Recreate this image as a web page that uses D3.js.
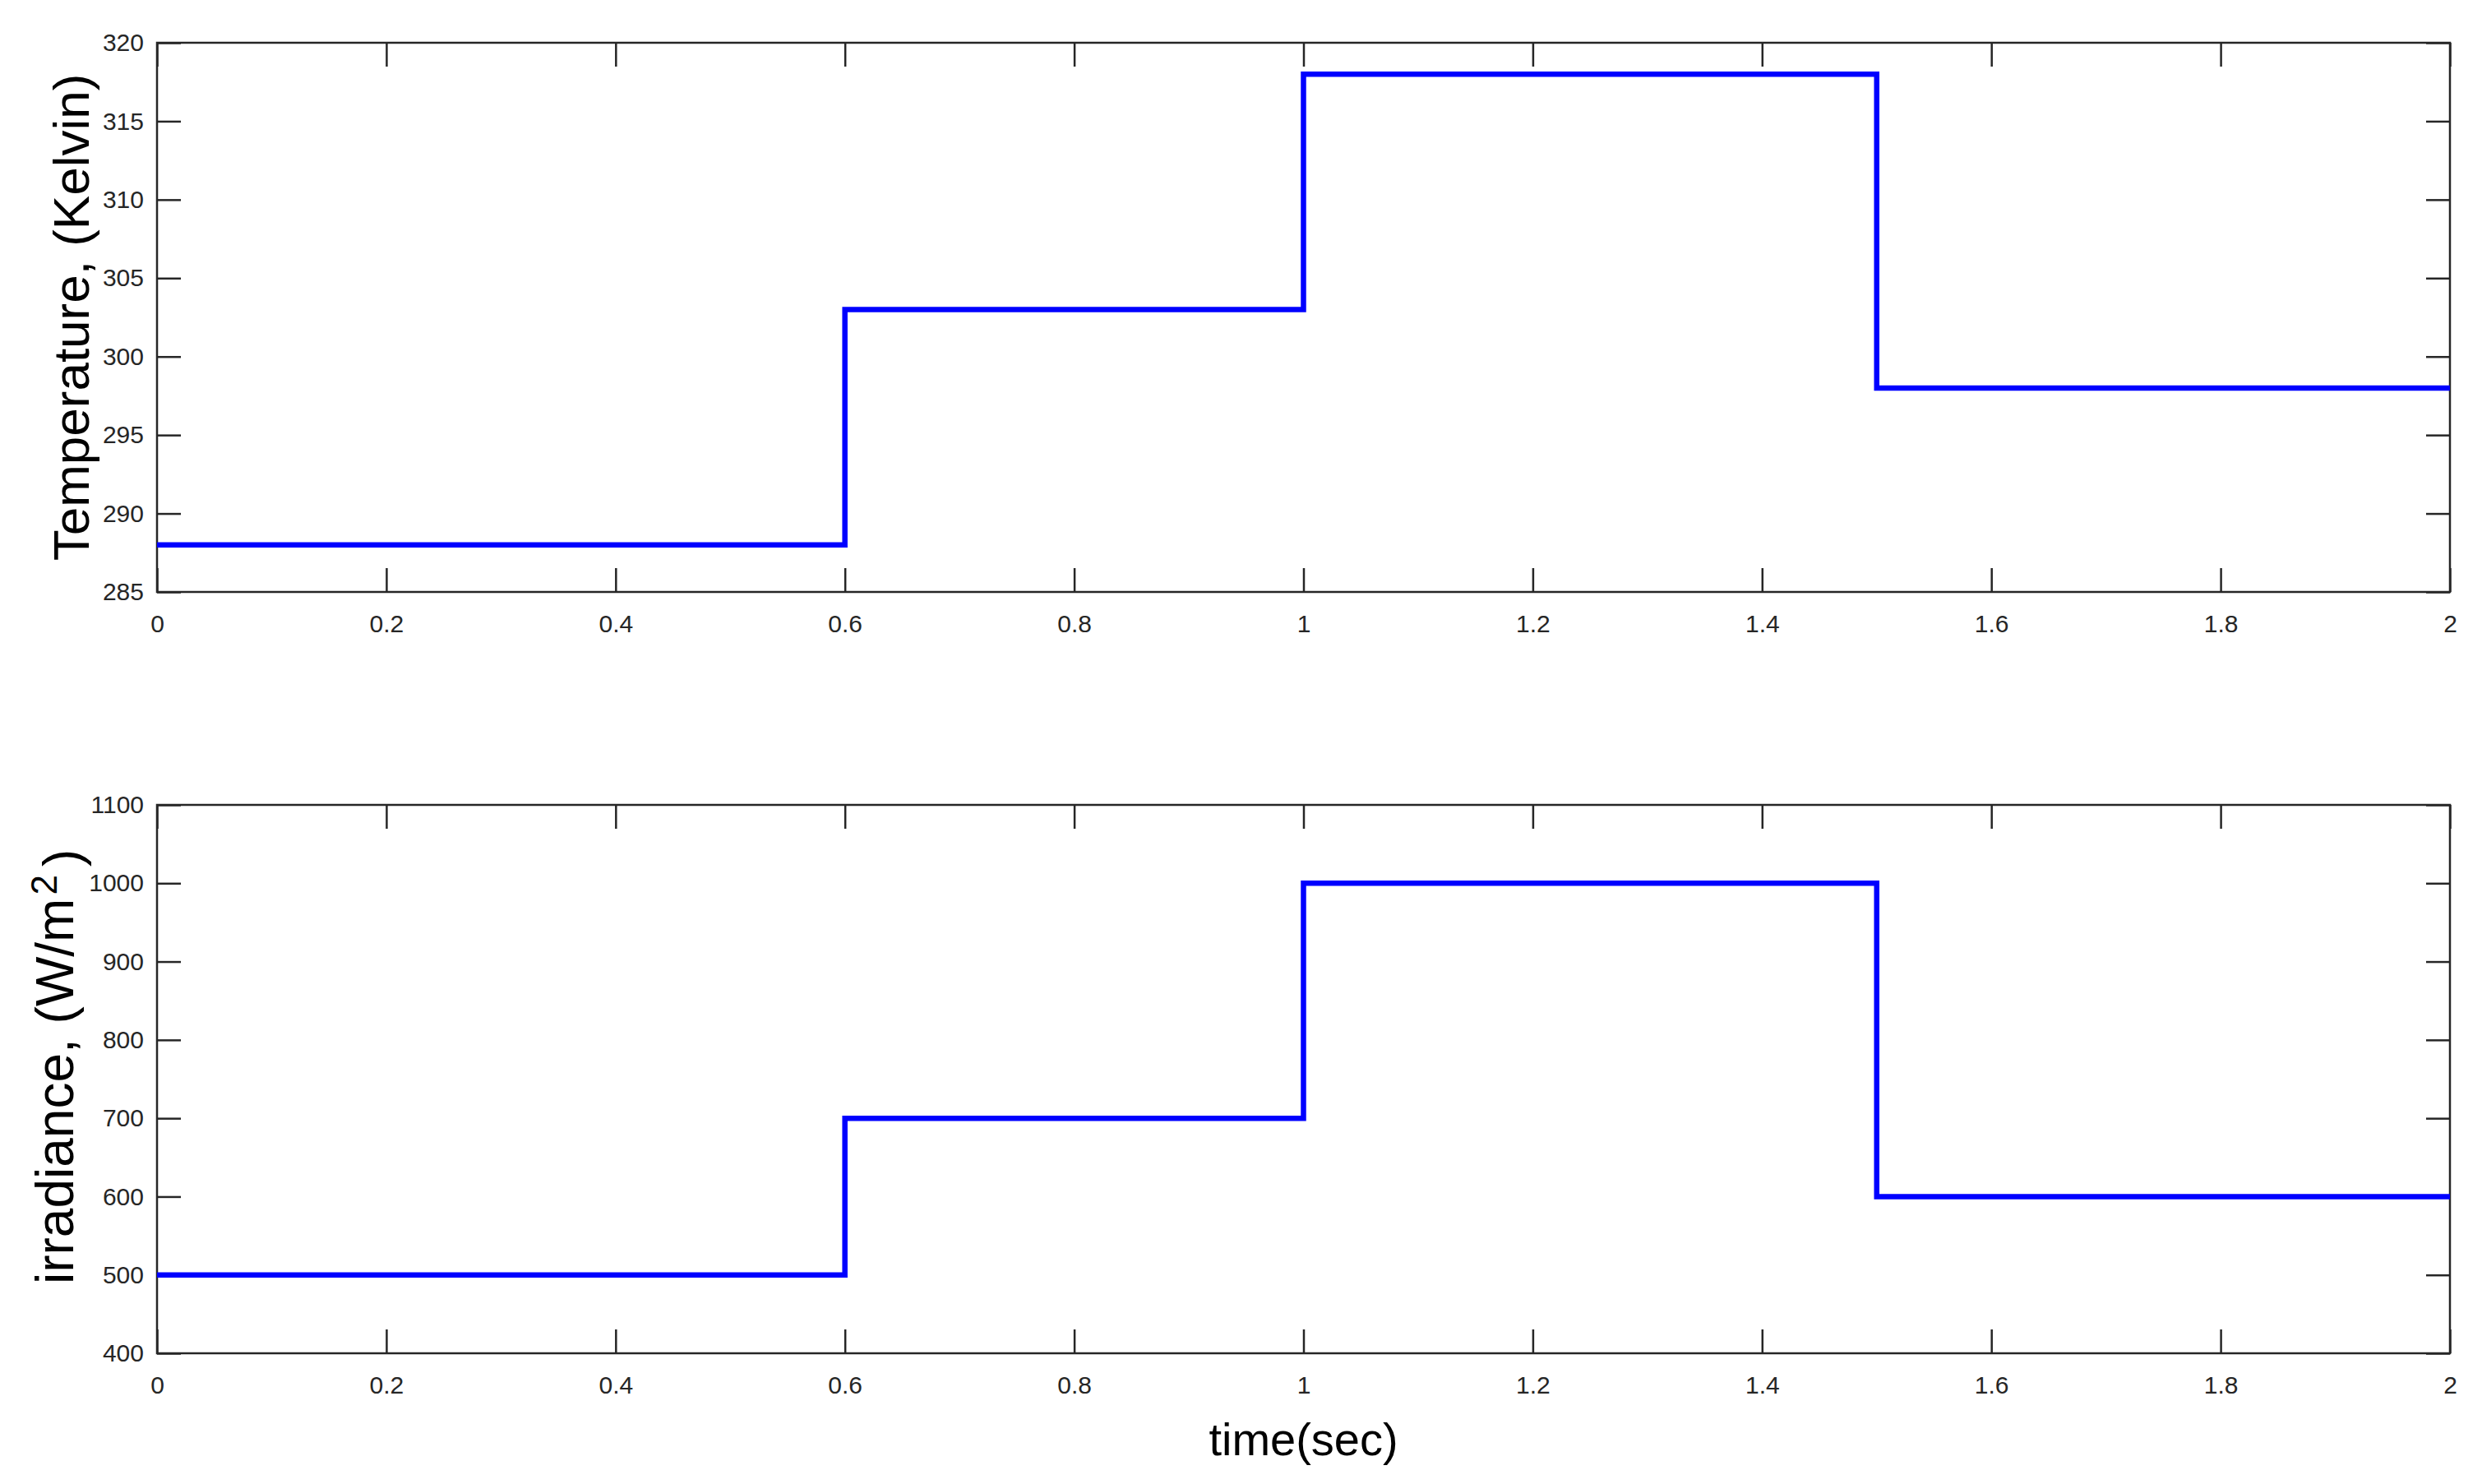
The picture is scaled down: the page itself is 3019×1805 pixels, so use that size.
<!DOCTYPE html>
<html>
<head>
<meta charset="utf-8">
<script src="https://cdn.jsdelivr.net/npm/d3@7"></script>
<style>
  body { margin: 0; background: #fff; }
  svg { display: block; font-family: "Liberation Sans", Arial, sans-serif; }
  .tick text { fill: #262626; font-size: 30px; }
  .tick line { stroke: #262626; stroke-width: 2.5; }
  .axis-label { fill: #000; }
</style>
</head>
<body>
<div id="chart"></div>
<script>
// step changes of the two inputs
const times = [0, 0.6, 1, 1.5, 2];
const temperature = [288, 303, 318, 298, 298];
const irradiance = [500, 700, 1000, 600, 600];

const xTicks = [0, 0.2, 0.4, 0.6, 0.8, 1, 1.2, 1.4, 1.6, 1.8, 2];
const tempTicks = [285, 290, 295, 300, 305, 310, 315, 320];
const irrTicks = [400, 500, 600, 700, 800, 900, 1000, 1100];

const W = 3019, H = 1805;
const left = 191, right = 2980;
const tickLen = 29;

const svg = d3.select('#chart')
  .append('svg')
  .attr('width', W)
  .attr('height', H);

function panel(top, bottom, values, yTicks) {
  const g = svg.append('g');

  const x = d3.scaleLinear()
    .domain([0, 2])
    .range([left, right]);
  const y = d3.scaleLinear()
    .domain(d3.extent(yTicks))
    .range([bottom, top]);

  // ticks point inward on every side, like a matlab box
  g.append('g')
    .attr('transform', 'translate(' + left + ',0)')
    .call(d3.axisLeft(y).tickValues(yTicks).tickSize(-tickLen).tickPadding(16).tickFormat(d3.format('d')));
  g.append('g')
    .attr('transform', 'translate(' + right + ',0)')
    .call(d3.axisRight(y).tickValues(yTicks).tickSize(-tickLen).tickFormat(''));
  g.append('g')
    .attr('transform', 'translate(0,' + bottom + ')')
    .call(d3.axisBottom(x).tickValues(xTicks).tickSize(-tickLen).tickPadding(28).tickFormat(d => String(d)));
  g.append('g')
    .attr('transform', 'translate(0,' + top + ')')
    .call(d3.axisTop(x).tickValues(xTicks).tickSize(-tickLen).tickFormat(''));
  g.selectAll('.domain').remove();

  // box
  g.append('rect')
    .attr('x', left)
    .attr('y', top)
    .attr('width', right - left)
    .attr('height', bottom - top)
    .attr('fill', 'none')
    .attr('stroke', '#262626')
    .attr('stroke-width', 2.5);

  const line = d3.line()
    .x((d, i) => x(times[i]))
    .y(d => y(d))
    .curve(d3.curveStepAfter);
  g.append('path')
    .datum(values)
    .attr('fill', 'none')
    .attr('stroke', '#0000ff')
    .attr('stroke-width', 6.5)
    .attr('d', line);

  return g;
}

panel(52, 720, temperature, tempTicks);
panel(979, 1646, irradiance, irrTicks);

// axis labels
svg.append('text')
  .attr('class', 'axis-label')
  .attr('transform', 'translate(108,386) rotate(-90)')
  .attr('text-anchor', 'middle')
  .style('font-size', '62px')
  .text('Temperature, (Kelvin)');

// anchored at its bottom end so it grows up the axis
const irrLabel = svg.append('text')
  .attr('class', 'axis-label')
  .attr('transform', 'translate(89,1562) rotate(-90)')
  .attr('text-anchor', 'start')
  .style('font-size', '64px');
irrLabel.append('tspan').text('irradiance, (W/m');
irrLabel.append('tspan').attr('dx', 4).attr('dy', '-0.45em').style('font-size', '44px').text('2');
irrLabel.append('tspan').attr('dx', 10).attr('dy', '0.45em').text(')');

svg.append('text')
  .attr('class', 'axis-label')
  .attr('x', (left + right) / 2)
  .attr('y', 1770)
  .attr('text-anchor', 'middle')
  .style('font-size', '56px')
  .text('time(sec)');
</script>
</body>
</html>
